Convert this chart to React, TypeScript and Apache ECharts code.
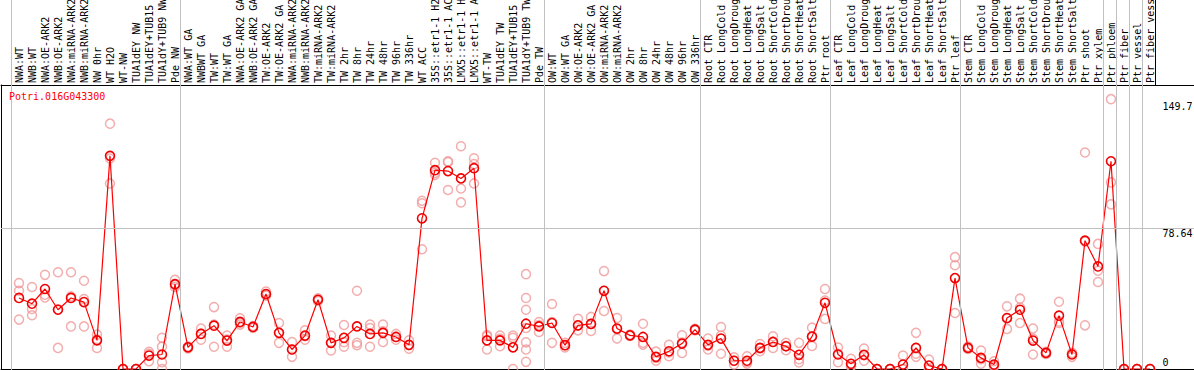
import React, { useEffect, useRef } from 'react';
import * as echarts from 'echarts';

const chartTitle = 'Potri.016G043300';

const categories = [
  'NWA:WT', 'NWB:WT', 'NWA:OE-ARK2', 'NWB:OE-ARK2', 'NWA:miRNA-ARK2', 'NWB:miRNA-ARK2',
  'NW 0hr', 'WT H2O', 'WT-NW', 'TUA1dEY NW', 'TUA1dEY+TUB15', 'TUA1dY+TUB9 NW', 'Pde NW',
  'NWA:WT GA', 'NWBWT GA', 'TW:WT', 'TW:WT GA', 'NWA:OE-ARK2 GA', 'NWB:OE-ARK2 GA',
  'TW:OE-ARK2', 'TW:OE-ARK2 GA', 'NWA:miRNA-ARK2', 'NWB:miRNA-ARK2', 'TW:miRNA-ARK2',
  'TW:miRNA-ARK2', 'TW 2hr', 'TW 8hr', 'TW 24hr', 'TW 48hr', 'TW 96hr', 'TW 336hr',
  'WT ACC', '35S::etr1-1 H2', '35S::etr1-1 AC', 'LMX5::etr1-1 H', 'LMX5::etr1-1 A',
  'WT-TW', 'TUA1dEY TW', 'TUA1dEY+TUB15', 'TUA1dY+TUB9 TW', 'Pde TW',
  'OW:WT', 'OW:WT GA', 'OW:OE-ARK2', 'OW:OE-ARK2 GA', 'OW:miRNA-ARK2', 'OW:miRNA-ARK2',
  'OW 2hr', 'OW 8hr', 'OW 24hr', 'OW 48hr', 'OW 96hr', 'OW 336hr',
  'Root CTR', 'Root LongCold', 'Root LongDroug', 'Root LongHeat', 'Root LongSalt',
  'Root ShortCold', 'Root ShortDrou', 'Root ShortHeat', 'Root ShortSalt', 'Ptr root',
  'Leaf CTR', 'Leaf LongCold', 'Leaf LongDroug', 'Leaf LongHeat', 'Leaf LongSalt',
  'Leaf ShortCold', 'Leaf ShortDrou', 'Leaf ShortHeat', 'Leaf ShortSalt', 'Ptr leaf',
  'Stem CTR', 'Stem LongCold', 'Stem LongDroug', 'Stem LongHeat', 'Stem LongSalt',
  'Stem ShortCold', 'Stem ShortDrou', 'Stem ShortHeat', 'Stem ShortSalt', 'Ptr shoot',
  'Ptr xylem', 'Ptr phloem', 'Ptr fiber', 'Ptr vessel', 'Ptr fiber vess',
];

const means = [
  39.7, 36.5, 44.7, 33.1, 39.7, 37.4, 16.0, 119.1, 0, 0, 7.5, 8.1, 47.4,
  12.1, 19.6, 24.2, 15.9, 26.3, 23.5, 41.9, 20.2, 10.9, 18.7, 38.7, 14.6, 17.4,
  23.8, 19.6, 20.2, 17.9, 13.5, 84.2, 111.1, 110.6, 106.5, 112.2, 16.0, 16.0,
  12.1, 25.3, 23.8,
  25.7, 13.3, 24.4, 25.2, 43.7, 22.6, 18.8, 17.9, 6.8, 9.9, 14.2, 22.0,
  13.5, 17.0, 4.6, 4.6, 11.8, 15.1, 12.7, 7.9, 18.1, 37.0,
  8.1, 2.9, 7.9, 0, 0, 2.5, 11.8, 1.9, 0, 50.8,
  11.8, 6.2, 2.5, 28.5, 33.1, 15.9, 9.0, 29.8, 8.1, 71.7, 57.3,
  116.1, 0, 0, 0,
];

const replicates = [
  [48.0, 43.7, 27.6], [45.8, 33.5, 30.0], [52.6, 41.5, 40.0], [54.1, 33.4, 11.8],
  [54.1, 40.6, 23.8], [49.3, 39.1, 23.8], [19.2, 16.5, 11.8], [137.1, 117.6, 103.7],
  [0, 0, 0], [0, 0, 0], [9.6, 8.5, 4.3], [17.4, 12.5, 3.8, 0], [49.8, 47.0, 45.8],
  [12.5, 12.3, 11.5], [22.6, 19.8, 16.4], [34.6, 24.8, 12.4], [18.7, 16.5, 12.4],
  [28.3, 25.8, 24.8], [24.0, 23.5, 23.0], [43.3, 41.5, 41.0], [25.7, 20.2, 14.6],
  [15.1, 10.9, 6.8], [21.6, 18.3, 16.4], [39.5, 38.7, 38.0], [18.7, 14.6, 10.3],
  [24.6, 15.0, 12.4], [43.7, 14.6, 13.3], [24.8, 22.9, 12.4], [24.8, 21.0, 15.1],
  [19.6, 18.0, 16.4], [16.0, 13.3, 11.3], [94.0, 92.6, 66.9], [115.2, 109.6, 108.5],
  [116.1, 115.7, 100.0], [124.5, 100.9, 93.1], [117.8, 114.5, 103.7], [19.0, 18.3, 10.9],
  [18.7, 17.0, 12.7], [18.7, 17.5, 0], [53.0, 39.7, 33.1, 22.9, 14.9, 10.9, 4.0],
  [26.3, 24.5, 20.7],
  [36.3, 26.2, 14.6], [14.6, 13.3, 12.1], [28.1, 24.4, 21.6], [29.1, 25.2, 21.3],
  [54.7, 43.7, 32.4], [28.5, 22.3, 17.0], [19.2, 18.8, 18.5], [25.3, 14.6, 13.6],
  [9.7, 6.2, 4.6], [13.5, 9.2, 7.1], [18.8, 14.8, 9.0], [22.4, 22.0, 21.6],
  [17.0, 13.0, 10.9], [23.5, 18.7, 8.5], [6.6, 4.6, 2.5], [7.1, 3.8, 3.0],
  [14.0, 11.5, 9.9], [18.3, 15.2, 11.8], [14.6, 13.0, 10.5], [14.6, 5.5, 3.6],
  [23.1, 18.3, 12.9], [44.7, 38.3, 28.0],
  [12.0, 8.5, 3.8], [5.7, 1.6, 1.4], [11.4, 7.7, 4.6], [0, 0, 0], [0, 0, 0],
  [7.5, 0, 0], [20.2, 8.5, 6.8], [5.3, 0, 0], [0, 0, 0], [62.5, 58.0, 31.3],
  [12.5, 11.8, 11.2], [10.3, 5.5, 2.9], [4.3, 2.0, 1.3], [35.0, 28.3, 22.4],
  [39.3, 34.3, 25.7], [22.6, 17.0, 8.1], [9.6, 9.0, 8.4], [37.6, 26.6, 25.7],
  [9.0, 8.5, 6.8], [121.0, 71.2, 24.4], [69.9, 54.9, 48.6],
  [150.8, 104.3, 92.0], [0, 0, 0], [0, 0, 0], [0, 0, 0],
];

const yTickValues = [0, 78.64, 149.7];
const gridLineValues = [78.64];
const groupBoundaries = [0, 13, 41, 53, 63, 73, 84, 85, 86, 87];
const yMax = 158.7;

export default function App() {
  const ref = useRef<HTMLDivElement>(null);

  useEffect(() => {
    if (!ref.current) return;
    const chart = echarts.init(ref.current, null, { renderer: 'svg' });
    const font = 'DejaVu Sans Mono';
    const scatterData: [number, number][] = [];
    replicates.forEach((arr, i) => arr.forEach((v) => scatterData.push([i, v])));
    const hiddenAxis = {
      axisLine: { show: false },
      axisTick: { show: false },
      axisLabel: { show: false },
      splitLine: { show: false },
    };
    const blackLine = { show: true, onZero: false, lineStyle: { color: '#000', width: 1 } };
    const tickText = { fontSize: 10, fontFamily: font, color: '#000', lineHeight: 12 };
    const noBounds = { containLabel: false, outerBoundsMode: 'none' };

    chart.setOption({
      animation: false,
      title: {
        text: chartTitle,
        left: 9,
        top: 91,
        padding: 0,
        textStyle: { color: '#ff0000', fontFamily: font, fontSize: 10, fontWeight: 'normal' },
      },
      grid: [
        { left: 12.5, width: 1144, top: 85, bottom: 1, ...noBounds },
        { left: 1, right: 0, top: 85, bottom: 1, ...noBounds },
        { left: 11.3, width: 1144, top: 0, bottom: 0, ...noBounds },
        { left: 11.3, width: 1144, top: 0, height: 85, ...noBounds },
      ],
      xAxis: [
        {
          gridIndex: 0,
          type: 'category',
          data: categories,
          position: 'top',
          boundaryGap: true,
          axisLine: { show: false, onZero: false },
          axisTick: { show: false },
          splitLine: { show: false },
          axisLabel: {
            rotate: -90,
            interval: 0,
            margin: 2,
            fontSize: 10,
            fontFamily: font,
            color: '#000',
          },
        },
        { gridIndex: 1, type: 'value', position: 'top', min: 0, max: 1, ...hiddenAxis, axisLine: blackLine },
        { gridIndex: 1, type: 'value', position: 'bottom', min: 0, max: 1, ...hiddenAxis, axisLine: blackLine },
        { gridIndex: 2, type: 'value', min: 0, max: 88, ...hiddenAxis },
        { gridIndex: 3, type: 'value', min: 0, max: 88, ...hiddenAxis },
      ],
      yAxis: [
        {
          gridIndex: 0,
          type: 'value',
          min: 0,
          max: yMax,
          position: 'right',
          ...hiddenAxis,
          axisLabel: {
            show: true,
            customValues: yTickValues,
            verticalAlign: 'middle',
            margin: 6,
            ...tickText,
            formatter: (v: number) => (v === 0 ? `{up|${v}}` : `{down|${v}}`),
            rich: {
              up: { ...tickText, padding: [0, 0, 14, 0] },
              down: { ...tickText, padding: [11, 0, 0, 0] },
            },
          },
        },
        { gridIndex: 1, type: 'value', min: 0, max: yMax, position: 'left', ...hiddenAxis, axisLine: blackLine },
        { gridIndex: 2, type: 'value', min: 0, max: 1, ...hiddenAxis },
        { gridIndex: 3, type: 'value', min: 0, max: 1, position: 'right', ...hiddenAxis, axisLine: blackLine },
      ],
      series: [
        {
          type: 'line',
          xAxisIndex: 1,
          yAxisIndex: 1,
          data: [],
          silent: true,
          markLine: {
            silent: true,
            symbol: ['none', 'none'],
            label: { show: false },
            lineStyle: { color: '#c0c0c0', type: 'solid', width: 1 },
            data: gridLineValues.map((v) => ({ yAxis: v })),
          },
        },
        {
          type: 'line',
          xAxisIndex: 3,
          yAxisIndex: 2,
          data: [],
          silent: true,
          markLine: {
            silent: true,
            symbol: ['none', 'none'],
            label: { show: false },
            lineStyle: { color: '#c0c0c0', type: 'solid', width: 1 },
            data: groupBoundaries.map((v) => ({ xAxis: v })),
          },
        },
        {
          type: 'scatter',
          xAxisIndex: 0,
          yAxisIndex: 0,
          data: scatterData,
          symbol: 'circle',
          symbolSize: 9,
          silent: true,
          z: 3,
          itemStyle: { color: 'rgba(255,255,255,0)', borderColor: '#f09898', borderWidth: 1.5 },
        },
        {
          type: 'line',
          xAxisIndex: 0,
          yAxisIndex: 0,
          data: means,
          symbol: 'circle',
          symbolSize: 9,
          showAllSymbol: true,
          silent: true,
          z: 4,
          lineStyle: { color: '#ff0000', width: 1.2 },
          itemStyle: { color: 'rgba(255,255,255,0)', borderColor: '#f00000', borderWidth: 1.6 },
        },
      ],
    });
    return () => chart.dispose();
  }, []);

  return (
    <div
      ref={ref}
      style={{ position: 'fixed', left: 0, top: 0, width: 1194, height: 370, background: '#fff' }}
    />
  );
}
